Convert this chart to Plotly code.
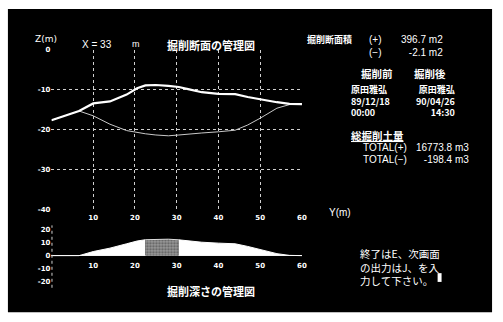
import plotly.graph_objects as go

W, H = 503, 322
JP = "Noto Sans CJK JP"
SANS = "Liberation Sans"
TICK = "DejaVu Sans"

# Cross-section at X = 33 m : horizontal offset Y (m) and ground level Z (m)
offset_y = [0, 3, 6.6, 10, 14, 18, 20.5, 22.5, 25, 28, 30.5, 33, 36, 40, 44, 47, 50, 54, 57, 60]
z_before = [-17.6, -16.6, -15.3, -13.4, -12.9, -11.2, -9.6, -8.9, -8.8, -9.0, -9.3,
            -9.9, -10.6, -11.0, -11.1, -11.8, -12.4, -13.1, -13.5, -13.6]
z_after = [-17.6, -16.6, -15.3, -16.5, -18.6, -20.2, -20.7, -21.0, -21.3, -21.5, -21.3,
           -21.0, -20.8, -20.5, -20.1, -18.8, -17.1, -14.6, -13.7, -13.6]

# excavation depth = before - after
depth = [round(b - a, 2) for b, a in zip(z_before, z_after)]

x_ticks = [0, 10, 20, 30, 40, 50, 60]
x_ticktext = ["", "10", "20", "30", "40", "50", "60"]
z_ticks = [0, -10, -20, -30, -40]
z_ticktext = ["0", "-10", "-20", "-30", "-40"]
d_ticks = [20, 10, 0, -10, -20]
d_ticktext = ["20", "10", "0", "-10", "-20"]

# stippled band of the depth chart
band_lo, band_hi = 22.5, 30.5


def px(x):
    return x / W


def py(y):
    return 1 - y / H


fig = go.Figure()

# --- cross-section profiles ---
fig.add_trace(go.Scatter(x=offset_y, y=z_after, mode="lines",
                         line=dict(color="#c8c8c8", width=1),
                         xaxis="x", yaxis="y", hoverinfo="skip"))
fig.add_trace(go.Scatter(x=offset_y, y=z_before, mode="lines",
                         line=dict(color="white", width=2.2),
                         xaxis="x", yaxis="y", hoverinfo="skip"))

# --- excavation depth chart (split into three fills) ---
segs = [
    [i for i, v in enumerate(offset_y) if v <= band_lo],
    [i for i, v in enumerate(offset_y) if band_lo <= v <= band_hi],
    [i for i, v in enumerate(offset_y) if v >= band_hi],
]
for k, idx in enumerate(segs):
    xs = [offset_y[i] for i in idx]
    ds = [depth[i] for i in idx]
    if k == 1:
        fig.add_trace(go.Scatter(x=xs, y=ds, mode="lines", fill="tozeroy",
                                 line=dict(color="#dddddd", width=1),
                                 fillcolor="#8a8a8a",
                                 fillpattern=dict(shape=".", fgcolor="white",
                                                  bgcolor="#555555", size=3, solidity=0.5),
                                 xaxis="x2", yaxis="y2", hoverinfo="skip"))
    else:
        fig.add_trace(go.Scatter(x=xs, y=ds, mode="lines", fill="tozeroy",
                                 line=dict(color="white", width=1),
                                 fillcolor="white",
                                 xaxis="x2", yaxis="y2", hoverinfo="skip"))

tickfont = dict(family=TICK, size=7, color="white", weight="bold")

fig.update_layout(
    width=W, height=H,
    margin=dict(l=0, r=0, t=0, b=0),
    paper_bgcolor="white",
    plot_bgcolor="rgba(0,0,0,0)",
    showlegend=False,
    xaxis=dict(domain=[px(52), px(305)], range=[0, 60], anchor="y",
               tickvals=x_ticks, ticktext=x_ticktext, tickfont=tickfont,
               ticklabelstandoff=2,
               showgrid=True, gridcolor="#d0d0d0", griddash="dot", gridwidth=1,
               zeroline=False, showline=False, ticks=""),
    yaxis=dict(domain=[py(211), py(47)], range=[-40, 0], anchor="x",
               tickvals=z_ticks, ticktext=z_ticktext, tickfont=tickfont,
               showgrid=True, gridcolor="#d0d0d0", griddash="dot", gridwidth=1,
               zeroline=False, showline=False, ticks=""),
    xaxis2=dict(domain=[px(52), px(305)], range=[0, 60], anchor="free",
                position=py(258), ticklabelstandoff=4,
                tickvals=x_ticks, ticktext=x_ticktext, tickfont=tickfont,
                showgrid=False, zeroline=False, showline=False, ticks=""),
    yaxis2=dict(domain=[py(291), py(227)], range=[-24.4, 23], anchor="x2",
                tickvals=d_ticks, ticktext=d_ticktext, tickfont=tickfont,
                showgrid=False, zeroline=True, zerolinecolor="#d0d0d0", zerolinewidth=1,
                showline=False, ticks=""),
)

shapes = [
    # screen background
    dict(type="rect", xref="paper", yref="paper", x0=px(8), x1=px(497), y0=py(316), y1=py(5),
         fillcolor="black", line=dict(width=0), layer="below"),
    # dotted vertical axis of the depth chart
    dict(type="line", xref="paper", yref="paper", x0=px(52.5), x1=px(52.5), y0=py(291), y1=py(227),
         line=dict(color="#d0d0d0", width=1, dash="dot")),
    # text cursor
    dict(type="rect", xref="paper", yref="paper", x0=px(442), x1=px(446), y0=py(285), y1=py(276),
         fillcolor="white", line=dict(width=0)),
]
fig.update_layout(shapes=shapes)


def label(lines, x, y, size=11, anchor="left", family=JP, bold=False, gap=None):
    """Text block; `gap` is the line pitch in pixels (plotly uses 1.3 x font size)."""
    if isinstance(lines, str):
        lines = [lines]
    base = size if gap is None else gap / 1.3
    body = "<br>".join(
        f"<span style='font-size:{size}px'>{t}</span>" for t in lines
    )
    align = {"left": "left", "right": "right", "center": "center"}[anchor]
    fig.add_annotation(x=px(x), y=py(y), xref="paper", yref="paper", text=body,
                       showarrow=False, xanchor=anchor, yanchor="top", align=align,
                       borderpad=0,
                       font=dict(family=family, size=base, color="white",
                                 weight="bold" if bold else "normal"))


label("Z(m)", 34, 30, size=9, family=TICK)
label("X = 33", 82, 35, size=10, family=SANS)
label("m", 132, 35, size=9, family=SANS)
label("掘削断面の管理図", 168, 33, size=11, bold=True)

label("掘削断面積", 309, 29, size=9, bold=True)
label(["(+)", "(−)"], 372, 30, size=10, family=SANS, gap=13)
label(["396.7 m2", "-2.1 m2"], 448, 30, size=10, anchor="right", family=SANS, gap=13)

label("掘削前", 381, 63, size=10.5, anchor="center", bold=True)
label("掘削後", 434, 63, size=10.5, anchor="center", bold=True)
label(["原田雅弘", "89/12/18", "00:00"], 354, 80, size=9, family=JP, bold=True, gap=11.5)
label(["原田雅弘", "90/04/26", "14:30"], 461, 80, size=9, anchor="right", family=JP,
      bold=True, gap=11.5)

label("<u>総掘削土量</u>", 354, 126, size=10.5, bold=True)
label(["TOTAL(+)", "TOTAL(−)"], 366, 140, size=10, family=SANS, gap=11.5)
label(["16773.8 m3", "-198.4 m3"], 475, 140, size=10, anchor="right", family=SANS, gap=11.5)

label("Y(m)", 331, 207, size=10, family=SANS)

label(["終了はE、次画面", "の出力はJ、を入", "力して下さい。"], 363, 247, size=10.5, gap=13.5)

label("掘削深さの管理図", 168, 285, size=11, bold=True)

fig.write_html("out.html")
